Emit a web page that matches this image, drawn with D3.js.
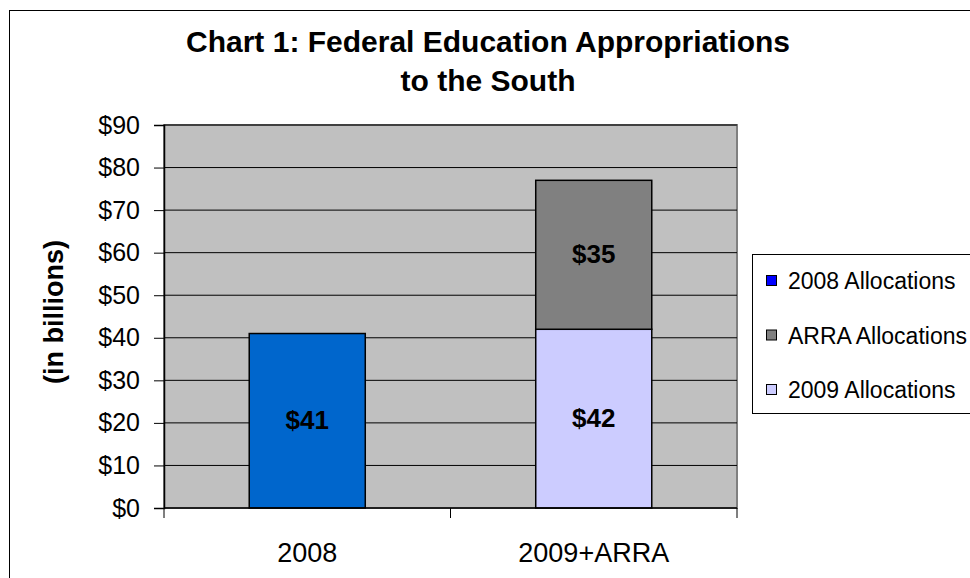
<!DOCTYPE html>
<html>
<head>
<meta charset="utf-8">
<script src="https://cdn.jsdelivr.net/npm/d3@7"></script>
<style>
body { margin: 0; background: #fff; }
text { font-family: "Liberation Sans", Arial, sans-serif; }
</style>
</head>
<body>
<svg id="mainsvg" width="970" height="578"></svg>
<script>
var categories = ["2008", "2009+ARRA"];
var series = ["2008 Allocations", "ARRA Allocations", "2009 Allocations"];
var colors = ["#0066CC", "#808080", "#CCCCFF"];
var legendColors = ["#0000FF", "#808080", "#CCCCFF"];
// values per category, in billions
var alloc2008 = [41, 0];
var alloc2009 = [0, 42];
var allocARRA = [0, 35];
var yTicks = [0, 10, 20, 30, 40, 50, 60, 70, 80, 90];

var svg = d3.select("#mainsvg");
var m = {left: 164, top: 125, right: 737, bottom: 508};

// outer frame
svg.append("rect")
	.attr("x", 9.5).attr("y", 10.5)
	.attr("width", 980).attr("height", 600)
	.attr("fill", "none").attr("stroke", "#000").attr("stroke-width", 1);

var x = d3.scaleBand().domain(categories).range([m.left, m.right]).paddingInner(0.595).paddingOuter(0.2975);
var y = d3.scaleLinear().domain([0, 90]).range([m.bottom, m.top]);

svg.append("rect")
	.attr("x", m.left).attr("y", m.top)
	.attr("width", m.right - m.left).attr("height", m.bottom - m.top)
	.attr("fill", "#C0C0C0").attr("stroke", "#808080").attr("stroke-width", 2);

// gridlines
svg.append("g").selectAll("line")
	.data(yTicks.slice(1))
	.enter().append("line")
	.attr("x1", m.left).attr("x2", m.right)
	.attr("y1", function(d) { return y(d); })
	.attr("y2", function(d) { return y(d); })
	.attr("stroke", "#000").attr("stroke-width", 1);

// build stack rows
var rows = categories.map(function(c, i) {
	return {cat: c, s0: alloc2008[i], s1: allocARRA[i], s2: alloc2009[i]};
});
var order = ["s0", "s2", "s1"];
var stacked = d3.stack().keys(order)(rows);
var colorOf = {s0: colors[0], s1: colors[1], s2: colors[2]};

stacked.forEach(function(layer) {
	var segs = layer.filter(function(d) { return d[1] - d[0] > 0; });
	svg.append("g").selectAll("rect")
		.data(segs)
		.enter().append("rect")
		.attr("x", function(d) { return x(d.data.cat); })
		.attr("width", x.bandwidth())
		.attr("y", function(d) { return y(d[1]); })
		.attr("height", function(d) { return y(d[0]) - y(d[1]); })
		.attr("fill", colorOf[layer.key])
		.attr("stroke", "#000").attr("stroke-width", 1.5);

	svg.append("g").selectAll("text")
		.data(segs)
		.enter().append("text")
		.attr("x", function(d) { return x(d.data.cat) + x.bandwidth() / 2; })
		.attr("y", function(d) { return y((d[0] + d[1]) / 2) + 8; })
		.attr("text-anchor", "middle")
		.attr("font-size", 26).attr("font-weight", "bold")
		.text(function(d) { return "$" + (d[1] - d[0]); });
});

// y axis
var yAxis = svg.append("g")
	.attr("transform", "translate(" + m.left + ",0)")
	.call(d3.axisLeft(y).tickValues(yTicks).tickSize(10).tickPadding(14)
		.tickFormat(function(d) { return "$" + d; }));
yAxis.select(".domain").attr("stroke", "#000").attr("stroke-width", 1.5);
yAxis.selectAll(".tick line").attr("stroke", "#000");
yAxis.selectAll("text").attr("font-size", 25).attr("fill", "#000")
	.style("font-family", "'Liberation Sans', Arial, sans-serif");

// x axis
var xg = svg.append("g").attr("transform", "translate(0," + m.bottom + ")");
xg.append("line").attr("x1", m.left).attr("x2", m.right).attr("stroke", "#000").attr("stroke-width", 1.5);
var bounds = [m.left, (m.left + m.right) / 2, m.right];
xg.selectAll("line.tk").data(bounds).enter().append("line")
	.attr("class", "tk")
	.attr("x1", function(d) { return d; }).attr("x2", function(d) { return d; })
	.attr("y1", 0).attr("y2", 10).attr("stroke", "#000");
xg.selectAll("text").data(categories).enter().append("text")
	.attr("x", function(d) { return x(d) + x.bandwidth() / 2; })
	.attr("y", 54)
	.attr("text-anchor", "middle").attr("font-size", 27)
	.text(function(d) { return d; });

// axis title
svg.append("text")
	.attr("transform", "translate(63,312) rotate(-90)")
	.attr("text-anchor", "middle").attr("font-size", 27).attr("font-weight", "bold")
	.text("(in billions)");

// title
svg.append("text").attr("x", 488).attr("y", 52)
	.attr("text-anchor", "middle").attr("font-size", 30).attr("font-weight", "bold")
	.text("Chart 1: Federal Education Appropriations");
svg.append("text").attr("x", 488).attr("y", 91)
	.attr("text-anchor", "middle").attr("font-size", 30).attr("font-weight", "bold")
	.text("to the South");

// legend
var lg = svg.append("g").attr("transform", "translate(752,254)");
lg.append("rect").attr("x", 0.5).attr("y", 0.5).attr("width", 240).attr("height", 159)
	.attr("fill", "#fff").attr("stroke", "#000");
var li = lg.selectAll("g.it").data(series).enter().append("g")
	.attr("class", "it")
	.attr("transform", function(d, i) { return "translate(14," + (27 + i * 54.5) + ")"; });
li.append("rect").attr("x", 0.5).attr("y", -5.5).attr("width", 10).attr("height", 10)
	.attr("fill", function(d, i) { return legendColors[i]; })
	.attr("stroke", "#000").attr("stroke-width", 1);
li.append("text").attr("x", 22).attr("y", 8).attr("font-size", 23)
	.text(function(d) { return d; });
</script>
</body>
</html>
